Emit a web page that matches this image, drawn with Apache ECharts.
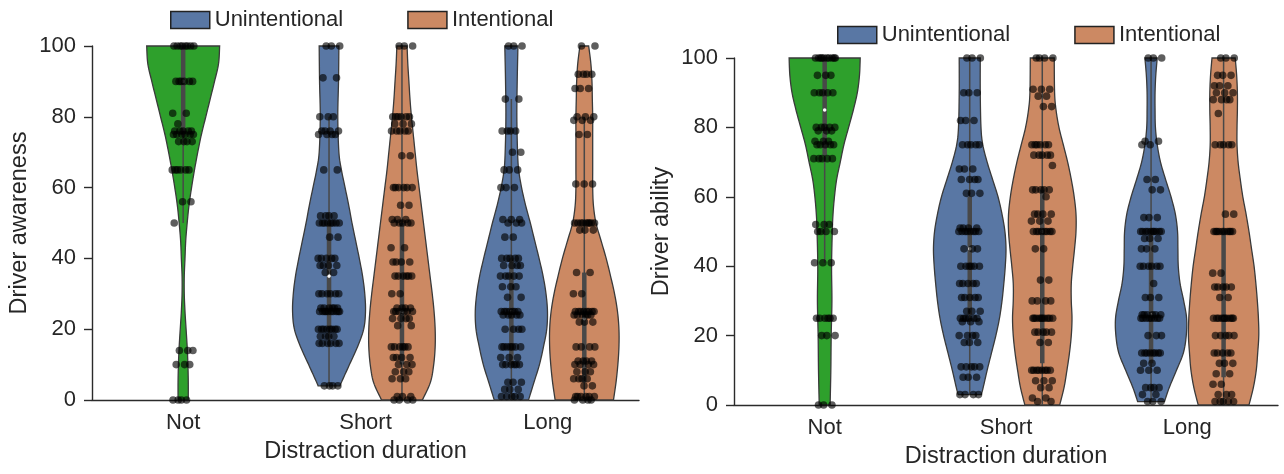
<!DOCTYPE html>
<html><head><meta charset="utf-8">
<script src="https://cdn.jsdelivr.net/npm/echarts@6/dist/echarts.min.js"></script>
<style>html,body{margin:0;padding:0;background:#fff}#c{width:1284px;height:474px}</style>
</head><body><div id="c"></div><script>
// ---------- data ----------
const categories = ['Not', 'Short', 'Long'];
const yTicks = [0, 20, 40, 60, 80, 100];
const hues = ['Unintentional', 'Intentional'];

// Driver awareness (left panel): violin density profiles (relative half-width at value levels)
const awNotLevels = [100, 95, 90, 85, 80, 75, 70, 65, 60, 55, 50, 45, 40, 35, 30, 25, 20, 15, 10, 5, 0];
const awNotWidths = [1.0, 0.97, 0.86, 0.74, 0.62, 0.50, 0.40, 0.31, 0.23, 0.16, 0.11, 0.07, 0.05, 0.03, 0.03, 0.05, 0.08, 0.11, 0.13, 0.14, 0.14];
const awShortULevels = [100, 90, 80, 70, 65, 60, 55, 50, 45, 40, 35, 30, 25, 20, 15, 10, 5, 4];
const awShortUWidths = [0.27, 0.26, 0.24, 0.27, 0.34, 0.44, 0.54, 0.63, 0.73, 0.83, 0.92, 0.98, 1.0, 0.95, 0.78, 0.56, 0.34, 0.30];
const awShortILevels = [100, 95, 90, 85, 80, 75, 70, 65, 60, 55, 50, 45, 40, 35, 30, 25, 20, 15, 10, 5, 0];
const awShortIWidths = [0.14, 0.16, 0.19, 0.22, 0.26, 0.31, 0.36, 0.41, 0.47, 0.53, 0.59, 0.65, 0.71, 0.77, 0.83, 0.88, 0.91, 0.91, 0.87, 0.78, 0.56];
const awLongULevels = [100, 90, 80, 70, 65, 60, 55, 50, 45, 40, 35, 30, 25, 20, 15, 10, 5, 0];
const awLongUWidths = [0.18, 0.16, 0.15, 0.17, 0.20, 0.28, 0.39, 0.52, 0.64, 0.76, 0.87, 0.95, 0.99, 0.97, 0.88, 0.77, 0.62, 0.47];
const awLongILevels = [100, 95, 90, 85, 80, 75, 70, 65, 60, 55, 50, 45, 40, 35, 30, 25, 20, 15, 10, 5, 0];
const awLongIWidths = [0.12, 0.18, 0.21, 0.22, 0.23, 0.23, 0.23, 0.23, 0.23, 0.25, 0.32, 0.46, 0.60, 0.72, 0.83, 0.91, 0.95, 0.95, 0.92, 0.87, 0.80];
// box stats: [lower whisker, Q1, median, Q3, upper whisker]
const awNotBox = [50, 75, 90, 100, 100];
const awShortUBox = [4, 20, 35, 50, 80];
const awShortIBox = [0, 10, 25, 50, 100];
const awLongUBox = [0, 10, 25, 40, 85];
const awLongIBox = [0, 5, 23, 36, 80];
// observations: [value, count]
const awNotPts = [[100,8],[90,6],[81,2],[78,1],[76,5],[75,6],[73,4],[65,6],[56,2],[50,1],[14,3],[10,3],[0,4]];
const awShortUPts = [[100,3],[91,2],[80,3],[76,4],[75,4],[65,2],[52,4],[50,8],[46,2],[40,5],[38,4],[36,2],[30,6],[26,6],[25,10],[20,8],[18,4],[16,6],[4,4]];
const awShortIPts = [[100,3],[80,6],[78,3],[76,5],[69,2],[60,6],[55,2],[51,3],[50,5],[43,2],[39,4],[35,6],[30,2],[26,4],[25,6],[23,4],[21,2],[15,6],[12,4],[10,3],[8,3],[6,3],[1,3],[0,4]];
const awLongUPts = [[100,3],[85,2],[76,4],[70,2],[65,3],[60,3],[51,3],[50,3],[46,2],[40,5],[38,4],[35,5],[32,3],[29,2],[25,7],[24,5],[20,4],[15,7],[12,3],[10,6],[5,3],[3,3],[1,5]];
const awLongIPts = [[100,2],[92,4],[88,3],[80,3],[79,3],[75,2],[61,3],[50,9],[48,3],[36,2],[30,2],[25,8],[24,6],[22,3],[15,4],[11,4],[10,4],[8,3],[6,4],[4,2],[1,6],[0,4]];

// Driver ability (right panel)
const abNotLevels = [100, 95, 90, 85, 80, 75, 70, 65, 60, 55, 50, 40, 30, 20, 10, 0];
const abNotWidths = [0.98, 0.96, 0.90, 0.79, 0.66, 0.53, 0.43, 0.33, 0.27, 0.23, 0.21, 0.19, 0.20, 0.18, 0.17, 0.15];
const abShortULevels = [100, 90, 80, 75, 70, 65, 60, 55, 50, 45, 40, 35, 30, 25, 20, 15, 10, 5, 3];
const abShortUWidths = [0.29, 0.29, 0.31, 0.36, 0.48, 0.63, 0.78, 0.89, 0.97, 1.0, 0.98, 0.94, 0.89, 0.82, 0.72, 0.60, 0.48, 0.37, 0.32];
const abShortILevels = [100, 90, 85, 80, 75, 70, 65, 60, 55, 50, 45, 40, 35, 30, 25, 20, 15, 10, 5, 0];
const abShortIWidths = [0.33, 0.34, 0.38, 0.46, 0.58, 0.70, 0.80, 0.88, 0.93, 0.93, 0.89, 0.84, 0.80, 0.80, 0.82, 0.80, 0.75, 0.68, 0.60, 0.48];
const abLongULevels = [100, 95, 90, 85, 80, 75, 70, 65, 60, 55, 50, 45, 40, 35, 30, 25, 20, 15, 10, 5, 1];
const abLongUWidths = [0.17, 0.13, 0.11, 0.11, 0.12, 0.17, 0.26, 0.40, 0.55, 0.67, 0.73, 0.74, 0.75, 0.80, 0.90, 0.98, 0.97, 0.89, 0.70, 0.50, 0.37];
const abLongILevels = [100, 95, 90, 85, 80, 75, 70, 65, 60, 55, 50, 45, 40, 35, 30, 25, 20, 15, 10, 5, 0];
const abLongIWidths = [0.32, 0.36, 0.38, 0.38, 0.37, 0.37, 0.40, 0.46, 0.53, 0.62, 0.70, 0.77, 0.84, 0.89, 0.93, 0.96, 0.97, 0.94, 0.90, 0.82, 0.70];
const abNotBox = [41, 72, 85, 100, 100];
const abShortUBox = [3, 26, 45, 60, 100];
const abShortIBox = [0, 12, 50, 62, 100];
const abLongUBox = [1, 12, 26, 49, 100];
const abLongIBox = [0, 8, 25, 50, 100];
const abNotPts = [[100,10],[95,3],[90,5],[80,5],[79,3],[76,3],[75,5],[71,5],[52,3],[50,4],[41,3],[25,6],[20,3],[0,3]];
const abShortUPts = [[100,3],[90,3],[82,3],[75,5],[68,3],[65,4],[61,3],[51,4],[50,8],[45,3],[40,6],[35,5],[31,5],[27,3],[25,6],[24,3],[20,4],[18,3],[11,5],[8,3],[3,4]];
const abShortIPts = [[100,4],[91,3],[89,2],[86,2],[75,6],[72,5],[69,1],[62,5],[60,1],[55,4],[53,3],[50,8],[45,2],[36,2],[30,4],[25,10],[21,5],[18,2],[10,8],[7,3],[5,2],[2,2],[1,2]];
const abLongUPts = [[100,3],[76,2],[75,2],[65,2],[62,2],[54,3],[50,10],[48,3],[45,3],[40,6],[35,1],[31,3],[26,6],[25,8],[20,3],[15,8],[12,2],[10,3],[5,4],[3,2],[1,3]];
const abLongIPts = [[100,3],[95,3],[92,3],[90,3],[88,4],[84,1],[75,5],[55,2],[50,10],[38,2],[34,5],[31,2],[25,10],[20,5],[15,5],[12,3],[9,2],[6,2],[3,3],[1,5]];

// ---------- style ----------
const FF = '"Liberation Sans", Arial, Helvetica, sans-serif';
const TXT = '#262626';
const AX = '#2b2b2b';
const GREEN = '#2ea02c', BLUE = '#5977a4', ORANGE = '#cc8963';
const OUTLINE = '#3a3a3a', BOXC = '#484848';

function catmull(pts, steps) {
  const out = [];
  const n = pts.length;
  for (let i = 0; i < n - 1; i++) {
    const p0 = pts[Math.max(0, i - 1)], p1 = pts[i], p2 = pts[i + 1], p3 = pts[Math.min(n - 1, i + 2)];
    for (let s = 0; s < steps; s++) {
      const t = s / steps, t2 = t * t, t3 = t2 * t;
      const f = (a, b, c, d) => 0.5 * ((2 * b) + (-a + c) * t + (2 * a - 5 * b + 4 * c - d) * t2 + (-a + 3 * b - 3 * c + d) * t3);
      out.push([f(p0[0], p1[0], p2[0], p3[0]), f(p0[1], p1[1], p2[1], p3[1])]);
    }
  }
  out.push(pts[n - 1]);
  return out;
}

function violin(gi, cat, hueOff, name, levels, widths, box, color) {
  return {
    type: 'custom', name: name, xAxisIndex: gi, yAxisIndex: gi, z: 2,
    itemStyle: { color: color },
    data: [[cat, box[2]]],
    renderItem: function (params, api) {
      const band = api.size([1, 0])[0];
      const cx = api.coord([cat, 0])[0] + hueOff * band;
      const half = 0.2 * band;
      const right = [], left = [];
      for (let i = 0; i < levels.length; i++) {
        const y = api.coord([cat, levels[i]])[1];
        right.push([cx + widths[i] * half, y]);
        left.push([cx - widths[i] * half, y]);
      }
      const R = catmull(right, 8), L = catmull(left, 8).reverse();
      const pts = R.concat(L);
      const yc = v => api.coord([cat, v])[1];
      return {
        type: 'group', children: [
          { type: 'polygon', shape: { points: pts }, style: { fill: color, stroke: OUTLINE, lineWidth: 1.3 } },
          { type: 'line', shape: { x1: cx, y1: yc(box[0]), x2: cx, y2: yc(box[4]) }, style: { stroke: BOXC, lineWidth: 1.5 } },
          { type: 'line', shape: { x1: cx, y1: yc(box[1]), x2: cx, y2: yc(box[3]) }, style: { stroke: BOXC, lineWidth: 4.5 } },
          { type: 'circle', shape: { cx: cx, cy: yc(box[2]), r: 1.8 }, style: { fill: '#fff' }, z2: 10 }
        ]
      };
    }
  };
}

function strip(gi, cat, hueOff, pairs) {
  const data = [];
  let k = 0;
  pairs.forEach(function (p) { for (let i = 0; i < p[1]; i++) data.push([cat, p[0], k++]); });
  return {
    type: 'custom', xAxisIndex: gi, yAxisIndex: gi, z: 5, data: data,
    renderItem: function (params, api) {
      const band = api.size([1, 0])[0];
      const c = api.coord([api.value(0), api.value(1)]);
      const idx = api.value(2);
      const j = ((idx * 0.6180339887 + 0.37) % 1) * 2 - 1;
      return { type: 'circle', shape: { cx: c[0] + hueOff * band + j * 0.06 * band, cy: c[1], r: 3.8 }, style: { fill: 'rgba(0,0,0,0.63)' } };
    }
  };
}

const OFF_U = -0.2, OFF_I = 0.2;
const series = [
  violin(0, 0, 0, 'Not', awNotLevels, awNotWidths, awNotBox, GREEN),
  violin(0, 1, OFF_U, hues[0], awShortULevels, awShortUWidths, awShortUBox, BLUE),
  violin(0, 1, OFF_I, hues[1], awShortILevels, awShortIWidths, awShortIBox, ORANGE),
  violin(0, 2, OFF_U, hues[0], awLongULevels, awLongUWidths, awLongUBox, BLUE),
  violin(0, 2, OFF_I, hues[1], awLongILevels, awLongIWidths, awLongIBox, ORANGE),
  strip(0, 0, 0, awNotPts), strip(0, 1, OFF_U, awShortUPts), strip(0, 1, OFF_I, awShortIPts),
  strip(0, 2, OFF_U, awLongUPts), strip(0, 2, OFF_I, awLongIPts),
  violin(1, 0, 0, 'Not', abNotLevels, abNotWidths, abNotBox, GREEN),
  violin(1, 1, OFF_U, hues[0], abShortULevels, abShortUWidths, abShortUBox, BLUE),
  violin(1, 1, OFF_I, hues[1], abShortILevels, abShortIWidths, abShortIBox, ORANGE),
  violin(1, 2, OFF_U, hues[0], abLongULevels, abLongUWidths, abLongUBox, BLUE),
  violin(1, 2, OFF_I, hues[1], abLongILevels, abLongIWidths, abLongIBox, ORANGE),
  strip(1, 0, 0, abNotPts), strip(1, 1, OFF_U, abShortUPts), strip(1, 1, OFF_I, abShortIPts),
  strip(1, 2, OFF_U, abLongUPts), strip(1, 2, OFF_I, abLongIPts)
];

function legendCfg(left, top) {
  return {
    left: left, top: top, padding: 0, icon: 'rect', itemWidth: 39, itemHeight: 17, itemGap: 64, selectedMode: false,
    textStyle: { fontSize: 22, fontFamily: FF, color: TXT, lineHeight: 22 },
    data: [
      { name: hues[0], itemStyle: { color: BLUE, borderColor: '#222', borderWidth: 1.5 } },
      { name: hues[1], itemStyle: { color: ORANGE, borderColor: '#222', borderWidth: 1.5 } }
    ]
  };
}

const yNames = ['Driver awareness', 'Driver ability'];
const option = {
  animation: false,
  backgroundColor: '#fff',
  grid: [
    { left: 92, top: 46, width: 547, height: 354 },
    { left: 734, top: 58, width: 544, height: 352 }
  ],
  legend: [legendCfg(170, 9), legendCfg(837, 24)],
  xAxis: [0, 1].map(gi => ({
    gridIndex: gi, type: 'category', data: categories, boundaryGap: true,
    axisLine: { lineStyle: { color: AX, width: 1.4 } },
    axisTick: { alignWithLabel: true, length: 8, lineStyle: { color: AX, width: 1.4 } },
    axisLabel: { fontSize: 22, color: TXT, fontFamily: FF, margin: 12 },
    splitLine: { show: false },
    name: 'Distraction duration', nameLocation: 'middle', nameGap: 40,
    nameTextStyle: { fontSize: 23.5, color: TXT, fontFamily: FF }
  })),
  yAxis: [0, 1].map(gi => ({
    gridIndex: gi, type: 'value', min: yTicks[0], max: yTicks[yTicks.length - 1], interval: yTicks[1] - yTicks[0],
    axisLine: { show: true, lineStyle: { color: AX, width: 1.4 } },
    axisTick: { show: true, length: 8, lineStyle: { color: AX, width: 1.4 } },
    axisLabel: { fontSize: 22, color: TXT, fontFamily: FF, margin: 16 },
    splitLine: { show: false },
    name: yNames[gi], nameLocation: 'middle', nameGap: 60,
    nameTextStyle: { fontSize: 23.5, color: TXT, fontFamily: FF }
  })),
  series: series
};
const chart = echarts.init(document.getElementById('c'), null, { renderer: 'canvas' });
chart.setOption(option);
</script></body></html>
